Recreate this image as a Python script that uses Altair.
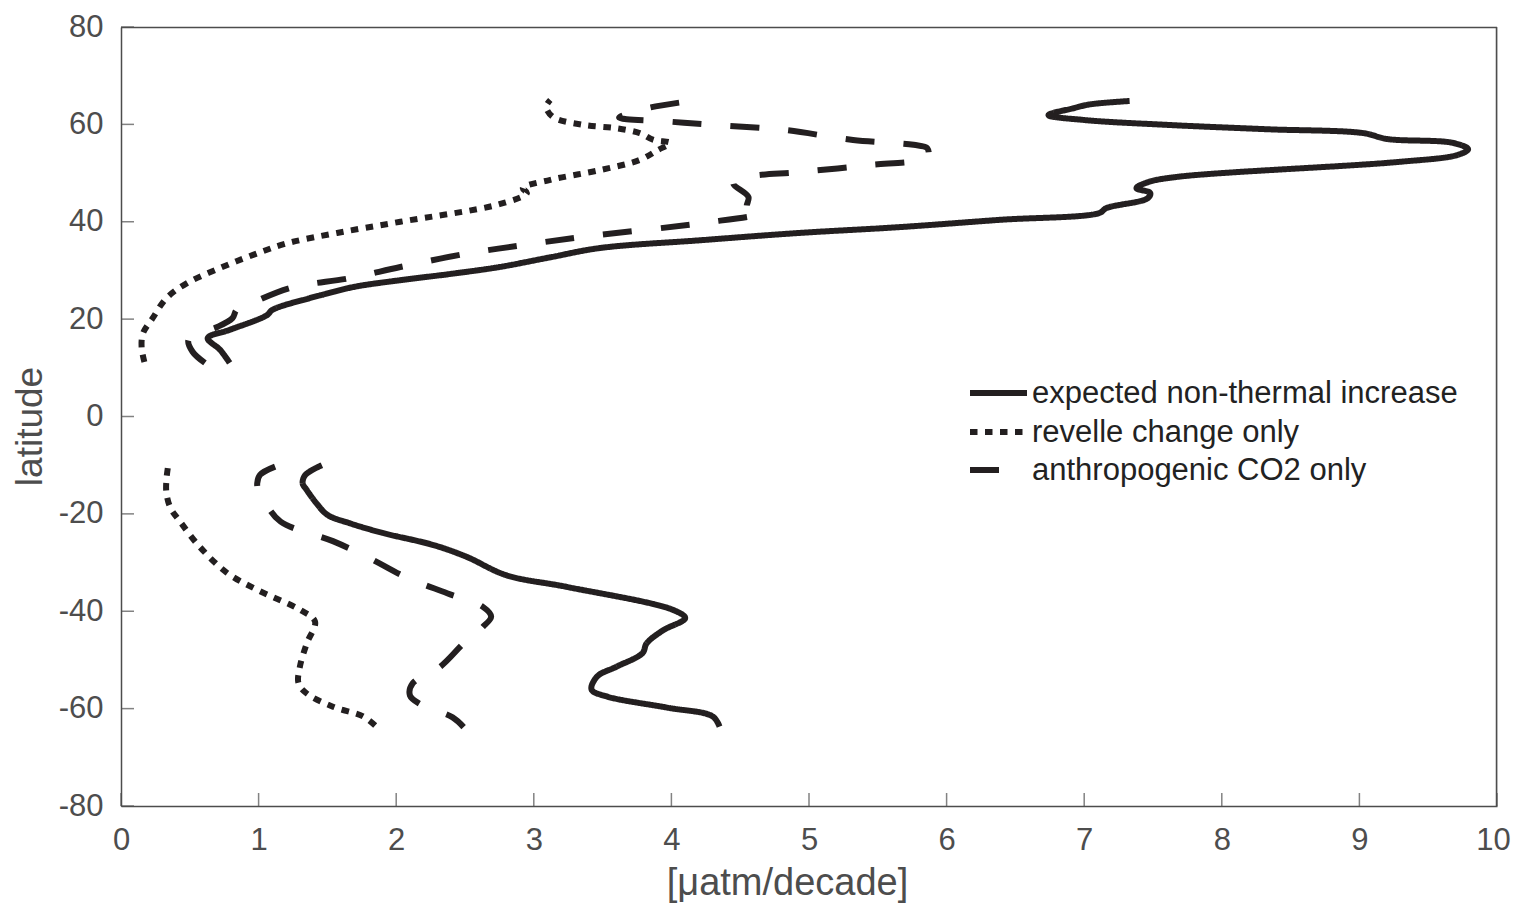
import altair as alt
import pandas as pd

# ---- data ----
series_names = ["expected non-thermal increase", "revelle change only", "anthropogenic CO2 only"]

solid_n_x = [0.79, 0.72, 0.63, 0.79, 1.06, 1.10, 1.37, 1.45, 1.69, 2.03, 2.40, 2.75, 3.12, 3.48, 4.21, 4.93, 5.66, 6.39, 7.11, 7.16, 7.46, 7.48, 7.38, 7.46, 7.67, 9.29, 9.71, 9.79, 9.68, 9.20, 9.03, 8.33, 7.60, 7.00, 6.74, 6.92, 7.04, 7.33]
solid_n_y = [11.0, 13.7, 16.1, 17.8, 20.8, 21.9, 24.3, 24.9, 26.6, 28.0, 29.3, 30.7, 32.7, 34.6, 36.2, 37.7, 38.9, 40.4, 41.8, 42.8, 44.8, 45.9, 46.9, 48.1, 49.2, 52.3, 53.7, 54.9, 56.2, 57.0, 58.2, 59.0, 59.9, 60.9, 61.9, 63.3, 64.1, 64.8]
solid_s_x = [1.46, 1.34, 1.32, 1.35, 1.42, 1.50, 1.66, 1.90, 2.27, 2.51, 2.80, 3.24, 4.01, 4.10, 3.94, 3.82, 3.79, 3.60, 3.46, 3.42, 3.53, 3.97, 4.30, 4.35]
solid_s_y = [-10.0, -12.0, -13.7, -15.1, -17.8, -20.2, -21.9, -23.9, -26.4, -28.8, -32.6, -35.0, -39.7, -41.4, -43.9, -46.6, -48.6, -51.4, -53.4, -56.1, -57.5, -59.8, -61.6, -63.7]

dot_n_x = [0.17, 0.15, 0.16, 0.23, 0.33, 0.48, 0.72, 0.96, 1.21, 1.57, 2.03, 2.75, 2.95, 2.92, 3.12, 3.48, 3.77, 3.90, 3.99, 3.87, 3.77, 3.60, 3.36, 3.14, 3.09, 3.12]
dot_n_y = [11.2, 14.1, 17.1, 20.2, 24.3, 27.4, 30.5, 33.2, 35.6, 37.7, 40.0, 43.6, 45.9, 46.9, 48.6, 50.6, 52.7, 54.7, 56.2, 56.8, 58.2, 59.2, 59.9, 61.5, 63.6, 65.0]
dot_s_x = [0.34, 0.33, 0.33, 0.36, 0.43, 0.57, 0.77, 0.99, 1.30, 1.41, 1.35, 1.30, 1.29, 1.35, 1.54, 1.76, 1.86]
dot_s_y = [-10.6, -13.0, -15.7, -18.8, -21.6, -26.7, -32.1, -35.6, -39.7, -42.1, -46.6, -51.4, -54.8, -56.9, -59.6, -61.6, -63.8]

dash_n_x = [0.61, 0.52, 0.49, 0.57, 0.70, 0.81, 0.84, 0.92, 1.23, 1.66, 2.03, 2.50, 2.92, 3.36, 4.21, 4.64, 4.55, 4.56, 4.45, 4.55, 4.93, 5.42, 5.86, 5.86, 5.76, 5.32, 4.81, 4.30, 3.97, 3.62, 3.66, 3.85, 4.19]
dash_n_y = [11.0, 13.3, 15.7, 17.1, 18.4, 20.2, 21.9, 22.9, 26.4, 28.4, 30.7, 33.4, 35.2, 36.9, 39.7, 41.8, 43.0, 45.1, 47.9, 49.2, 50.2, 51.6, 53.3, 55.1, 55.8, 56.8, 58.9, 59.9, 60.6, 61.4, 62.0, 63.5, 65.0]
dash_s_x = [1.12, 1.01, 0.99, 1.00, 1.05, 1.16, 1.54, 1.80, 2.07, 2.37, 2.63, 2.69, 2.63, 2.49, 2.32, 2.12, 2.10, 2.17, 2.41, 2.49]
dash_s_y = [-10.3, -12.0, -13.7, -15.5, -17.8, -21.6, -25.6, -29.0, -33.0, -36.3, -39.1, -41.1, -43.2, -46.6, -51.4, -54.8, -57.3, -59.0, -61.8, -63.8]

x_ticks = [0, 1, 2, 3, 4, 5, 6, 7, 8, 9, 10]
y_ticks = [-80, -60, -40, -20, 0, 20, 40, 60, 80]

# ---- build table ----
rows = []
segs = [
    (series_names[0], "n", solid_n_x, solid_n_y),
    (series_names[0], "s", solid_s_x, solid_s_y),
    (series_names[1], "n", dot_n_x, dot_n_y),
    (series_names[1], "s", dot_s_x, dot_s_y),
    (series_names[2], "n", dash_n_x, dash_n_y),
    (series_names[2], "s", dash_s_x, dash_s_y),
]
for name, seg, xs, ys in segs:
    for i, (xv, yv) in enumerate(zip(xs, ys)):
        rows.append({"series": name, "seg": name + seg, "i": i, "x": xv, "lat": yv})
df = pd.DataFrame(rows)

FONT = "Liberation Sans"
INK = "#231f20"
GRAY = "#4d4d4d"
LW = 6
DASHES = [[1, 0], [7.5, 7.5], [29, 29]]
W, H = 1376, 779

xscale = alt.Scale(domain=[0, 10], nice=False, zero=False)
yscale = alt.Scale(domain=[-80, 80], nice=False, zero=False)

lines = alt.Chart(df).mark_line(strokeWidth=LW, strokeCap="butt", strokeJoin="round", color=INK,
                                interpolate="catmull-rom").encode(
    x=alt.X("x:Q", scale=xscale, axis=alt.Axis(
        values=x_ticks, title="[μatm/decade]", ticks=False, grid=False, labelFlush=False,
        labelExpr="datum.value + ''",
        labelOffset={"condition": {"test": "datum.value == 10", "value": -4}, "value": 0},
        labelFont=FONT, labelFontSize=31, labelColor=GRAY, labelPadding=19,
        titleFont=FONT, titleFontSize=38, titleColor=GRAY, titleFontWeight="normal", titlePadding=9,
        titleX=666,
        domainColor=GRAY, domainWidth=1.5)),
    y=alt.Y("lat:Q", scale=yscale, axis=alt.Axis(
        values=y_ticks, title="latitude", ticks=False, grid=False, labelFlush=False,
        labelExpr="datum.value + ''",
        labelFont=FONT, labelFontSize=31, labelColor=GRAY, labelPadding=18,
        titleFont=FONT, titleFontSize=37, titleColor=GRAY, titleFontWeight="normal", titlePadding=9,
        titleY=399,
        domainColor=GRAY, domainWidth=1.5)),
    strokeDash=alt.StrokeDash("series:N", scale=alt.Scale(domain=series_names, range=DASHES), legend=None),
    detail="seg:N",
    order="i:Q",
)

xtick_df = pd.DataFrame({"v": x_ticks})
ytick_df = pd.DataFrame({"v": y_ticks})
xt = alt.Chart(xtick_df).mark_tick(color=GRAY, thickness=1.5, size=13, orient="vertical").encode(
    x=alt.X("v:Q", scale=xscale), y=alt.value(H - 6.5))
yt = alt.Chart(ytick_df).mark_tick(color=GRAY, thickness=1.5, size=13, orient="horizontal").encode(
    y=alt.Y("v:Q", scale=yscale), x=alt.value(6.5))

# box frame (top and right edges)
frame_top = alt.Chart(pd.DataFrame({"k": [0]})).mark_rule(color=GRAY, strokeWidth=1.5).encode(
    x=alt.value(0), x2=alt.value(W), y=alt.value(0.5))
frame_right = alt.Chart(pd.DataFrame({"k": [0]})).mark_rule(color=GRAY, strokeWidth=1.5).encode(
    x=alt.value(W - 0.5), y=alt.value(0), y2=alt.value(H))

# ---- legend (drawn manually, placed in pixel layout) ----
leg_rows_y = [366, 405, 443]
layers = [lines, xt, yt, frame_top, frame_right]
for name, dash, ly in zip(series_names, DASHES, leg_rows_y):
    sym = alt.Chart(pd.DataFrame({"series": [name]})).mark_rule(
        strokeWidth=LW, strokeCap="butt", color=INK, strokeDash=dash).encode(
        x=alt.value(849), x2=alt.value(906), y=alt.value(ly))
    txt = alt.Chart(pd.DataFrame({"series": [name]})).mark_text(
        align="left", baseline="middle", font=FONT, fontSize=31, color="#222222").encode(
        x=alt.value(911), y=alt.value(ly + 1), text="series:N")
    layers += [sym, txt]

chart = alt.layer(*layers).properties(
    width=W, height=H,
    autosize=alt.AutoSizeParams(type="none"),
    padding={"left": 113, "top": 19, "right": 14, "bottom": 99},
).configure_view(stroke=None).configure(background="white")

chart.save("out.html", embed_options={"renderer": "svg", "actions": False})
